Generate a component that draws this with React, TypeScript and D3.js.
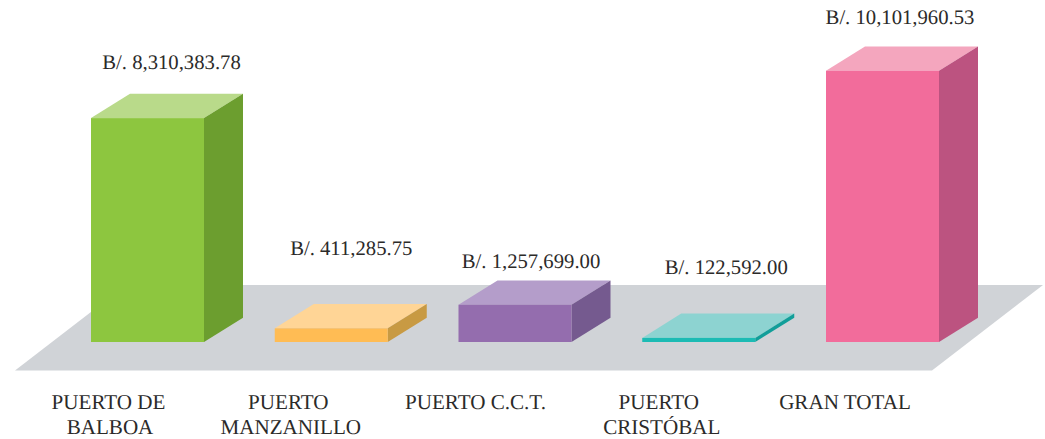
import React from "react";
import * as d3 from "d3";

const W = 1045, H = 439;
const categories = [["PUERTO DE", "BALBOA"], ["PUERTO", "MANZANILLO"], ["PUERTO C.C.T."], ["PUERTO", "CRISTÓBAL"], ["GRAN TOTAL"]];
const values = [8310383.78, 411285.75, 1257699.0, 122592.0, 10101960.53];
const valueLabels = ["B/. 8,310,383.78", "B/. 411,285.75", "B/. 1,257,699.00", "B/. 122,592.00", "B/. 10,101,960.53"];
const frontColors = ["#8DC63F", "#FFBC54", "#946DAE", "#1CBBB4", "#F26C9B"];
const topColors = ["#B9DA8A", "#FFD596", "#B49DCA", "#8DD3D1", "#F4A6BE"];
const sideColors = ["#6C9E2F", "#C89A43", "#755A8F", "#119E99", "#BC5380"];
// label placement relative to each bar
const labelDx = [24, 20, 16, 27.5, 17.5];
const labelDy = [25, 49, 12, 40, 22];
const categoryDx = [[-39, -37.5], [-43, -40.5], [-39.5], [-40, -37], [-37.5]];

const baseY = 342, depthX = 39, depthY = 24.3;
const x = d3.scaleBand<number>().domain(d3.range(5)).range([91, 939]).paddingInner(1 - 113 / 183.75).paddingOuter(0);
// The drawing's height axis is not strictly proportional at the low end
const h = d3.scaleLinear().domain([0, 411285.75, 1257699, 10101960.53]).range([0, 13.7, 37.3, 271.3]);
const poly = (pts: number[][]) => (d3.line()(pts as [number, number][]) as string) + "Z";
const font = "'Liberation Serif', 'Times New Roman', serif";

export default function App() {
  const bw = x.bandwidth();
  return (
    <svg width={W} height={H} viewBox={`0 0 ${W} ${H}`} style={{ position: "absolute", left: 0, top: 0, display: "block", background: "#fff", textRendering: "geometricPrecision" }}>
      <path d={poly([[15, 370.5], [932, 370.5], [1043, 285], [126, 285]])} fill="#D0D3D7" />
      {values.map((v, i) => {
        const x0 = x(i) as number, x1 = x0 + bw, top = baseY - h(v);
        const cx = x0 + bw / 2;
        const backTop = top - depthY;
        return (
          <g key={i}>
            <path d={poly([[x0, top], [x1, top], [x1 + depthX, backTop], [x0 + depthX, backTop]])} fill={topColors[i]} />
            <path d={poly([[x1, top], [x1 + depthX, backTop], [x1 + depthX, baseY - depthY], [x1, baseY]])} fill={sideColors[i]} />
            <rect x={x0} y={top} width={bw} height={baseY - top} fill={frontColors[i]} />
            <text x={cx + labelDx[i]} y={backTop - labelDy[i]} textAnchor="middle" fontFamily={font} fontSize={20.7} fill="#2B2A29">{valueLabels[i]}</text>
            {categories[i].map((line, j) => (
              <text key={j} x={cx + categoryDx[i][j]} y={409 + j * 25} textAnchor="middle" fontFamily={font} fontSize={21.1} fill="#2B2A29">{line}</text>
            ))}
          </g>
        );
      })}
    </svg>
  );
}
